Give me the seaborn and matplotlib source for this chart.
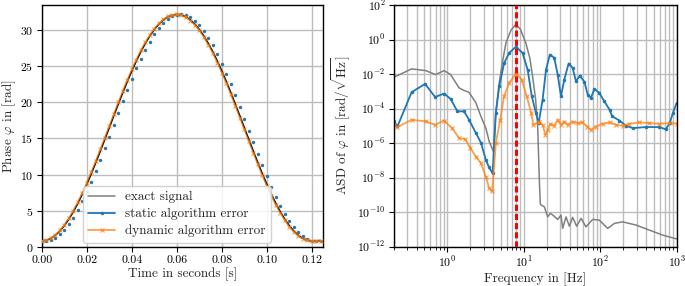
import matplotlib
matplotlib.use("Agg")
import matplotlib.pyplot as plt
import matplotlib.ticker as mticker
import numpy as np
import seaborn as sns

# ---- left panel: phase over time ----
time_s = np.linspace(0, 0.124, 63)
phase_exact = [0.80, 0.89, 1.14, 1.57, 2.16, 2.90, 3.80, 4.83, 5.99, 7.27,
               8.65, 10.11, 11.65, 13.24, 14.86, 16.50, 18.14, 19.76, 21.35, 22.89,
               24.35, 25.73, 27.01, 28.17, 29.20, 30.10, 30.84, 31.43, 31.86, 32.11,
               32.20, 32.11, 31.86, 31.43, 30.84, 30.10, 29.20, 28.17, 27.01, 25.73,
               24.35, 22.89, 21.35, 19.76, 18.14, 16.50, 14.86, 13.24, 11.65, 10.11,
               8.65, 7.27, 5.99, 4.83, 3.80, 2.90, 2.16, 1.57, 1.14, 0.89,
               0.80, 0.82, 0.84]
phase_static = [0.85, 0.81, 0.93, 1.23, 1.70, 2.33, 3.11, 4.04, 5.11, 6.30,
                7.61, 9.01, 10.49, 12.04, 13.64, 15.27, 16.91, 18.55, 20.17, 21.74,
                23.26, 24.70, 26.06, 27.31, 28.44, 29.44, 30.30, 31.00, 31.55, 31.94,
                32.15, 32.19, 32.07, 31.77, 31.30, 30.67, 29.89, 28.96, 27.89, 26.70,
                25.39, 23.99, 22.51, 20.96, 19.36, 17.73, 16.09, 14.45, 12.83, 11.26,
                9.74, 8.30, 6.94, 5.69, 4.56, 3.56, 2.70, 2.00, 1.45, 1.06,
                0.85, 0.81, 0.82]
phase_dynamic = [0.80, 0.92, 1.19, 1.65, 2.26, 3.03, 3.95, 5.00, 6.18, 7.47,
                 8.87, 10.34, 11.89, 13.48, 15.11, 16.75, 18.39, 20.00, 21.59, 23.12,
                 24.57, 25.93, 27.20, 28.34, 29.35, 30.22, 30.94, 31.51, 31.91, 32.14,
                 32.20, 32.08, 31.81, 31.35, 30.74, 29.97, 29.05, 28.00, 26.82, 25.53,
                 24.13, 22.66, 21.11, 19.52, 17.89, 16.25, 14.61, 12.98, 11.41, 9.88,
                 8.43, 7.07, 5.80, 4.66, 3.65, 2.78, 2.06, 1.49, 1.09, 0.86,
                 0.80, 0.81, 0.82]

# ---- right panel: amplitude spectral density, values as log10 ----
freq_exact = [0.2, 0.222, 0.34, 0.52, 0.70, 0.905, 1.1, 1.42, 1.65, 1.92,
              2.36, 2.74, 3.18, 3.52, 4.0, 4.3, 4.76, 5.3, 5.83, 6.8,
              7.87, 9.0, 10.6, 12.0, 13.0, 14.2, 15.1, 15.9, 16.4, 16.8,
              18.5, 20.5, 22.2, 24.0, 27.7, 30.6, 32.2, 35.6, 39.4, 43.5,
              49.0, 56.0, 65.0, 79.5, 97.0, 125.0, 153.0, 196.0, 295.0, 440.0,
              658.0, 1000.0]
asd_exact_log = [-2.16, -2.09, -1.70, -1.80, -2.03, -1.80, -2.03, -2.80, -2.95, -3.06,
                 -3.67, -4.45, -5.13, -5.90, -6.50, -4.20, -2.51, -1.20, -0.19, 0.55,
                 0.88, 0.60, -0.19, -1.10, -2.13, -3.40, -4.80, -8.00, -9.50, -9.59,
                 -9.68, -10.27, -10.07, -10.17, -10.42, -10.17, -10.94, -10.27, -10.81, -10.30,
                 -10.81, -10.36, -10.85, -10.42, -10.46, -10.94, -10.65, -10.56, -10.75, -11.04,
                 -11.33, -11.55]

freq_static = [0.2, 0.222, 0.34, 0.51, 0.69, 0.905, 1.1, 1.35, 1.65, 1.92,
               2.36, 2.74, 3.18, 3.5, 3.9, 4.3, 4.76, 5.53, 6.44, 7.87,
               9.6, 11.2, 12.7, 14.4, 15.6, 17.6, 19.5, 21.9, 25.0, 27.7,
               30.6, 33.8, 38.5, 43.5, 48.0, 54.0, 62.0, 68.5, 75.5, 83.7,
               97.0, 113.0, 132.0, 143.0, 178.0, 218.0, 267.0, 397.0, 595.0, 716.0,
               810.0, 890.0, 1000.0]
asd_static_log = [-4.74, -5.03, -3.05, -2.57, -3.33, -3.13, -3.44, -4.16, -4.16, -4.65,
                  -5.42, -5.97, -6.97, -7.40, -7.75, -4.26, -2.71, -1.35, -0.77, -0.42,
                  -0.77, -1.74, -3.29, -4.26, -4.84, -3.48, -1.74, -0.87, -1.06, -2.03,
                  -3.29, -2.32, -1.39, -1.64, -2.42, -2.09, -2.45, -3.19, -3.38, -2.86,
                  -3.09, -3.58, -4.06, -4.45, -4.69, -5.00, -5.13, -5.07, -5.07, -5.20,
                  -4.84, -4.26, -3.67]

freq_dynamic = [0.2, 0.222, 0.34, 0.52, 0.69, 0.9, 1.15, 1.42, 1.7, 2.0,
                2.36, 2.74, 3.18, 3.52, 3.85, 4.3, 4.9, 5.5, 6.44, 7.87,
                9.4, 10.9, 12.5, 13.3, 15.1, 15.9, 17.6, 19.1, 20.5, 22.2,
                25.0, 27.7, 30.6, 33.8, 37.3, 43.5, 50.5, 58.5, 67.5, 75.5,
                87.0, 107.0, 132.0, 161.0, 196.0, 240.0, 325.0, 440.0, 595.0, 810.0,
                1000.0]
asd_dynamic_log = [-4.94, -5.07, -4.65, -4.74, -4.94, -4.69, -5.13, -5.71, -5.77, -6.29,
                   -6.78, -7.16, -7.94, -8.62, -8.80, -6.00, -4.65, -3.29, -2.51, -1.97,
                   -2.32, -3.29, -4.26, -4.94, -4.80, -4.78, -4.94, -5.52, -5.23, -4.88,
                   -5.00, -4.65, -4.94, -4.75, -4.94, -4.75, -4.84, -4.80, -5.04, -5.23,
                   -5.04, -4.88, -4.80, -4.94, -5.00, -4.88, -4.80, -4.84, -4.88, -4.84,
                   -4.88]

excitation_freq = 8.0
legend_labels = ["exact signal", "static algorithm error", "dynamic algorithm error"]

sns.set_theme(style="ticks")
plt.rcParams.update({
    "font.family": ["cmr10", "DejaVu Serif"],
    "mathtext.fontset": "cm",
    "axes.formatter.use_mathtext": True,
    "axes.unicode_minus": False,
    "axes.edgecolor": "black",
    "axes.linewidth": 1.0,
    "xtick.color": "black",
    "ytick.color": "black",
    "grid.color": "#bdbdbd",
    "grid.linewidth": 1.0,
})

blue = "#1f77b4"
orange = "#ff7f0e"

fig = plt.figure(figsize=(6.85, 2.86), dpi=100)
ax1 = fig.add_axes([0.0609, 0.1374, 0.4107, 0.8451])
ax2 = fig.add_axes([0.5752, 0.1374, 0.4127, 0.8451])

# left: time domain
sns.lineplot(x=time_s, y=phase_exact, color="black", linewidth=1.2, ax=ax1,
             sort=False, estimator=None)
sns.scatterplot(x=time_s, y=phase_static, color=blue, s=6, linewidth=0, ax=ax1, zorder=3)
sns.lineplot(x=time_s, y=phase_dynamic, color=orange, alpha=0.75, linewidth=1.0,
             marker="x", markersize=2.5, markeredgewidth=0.8, markeredgecolor=orange,
             ax=ax1, sort=False, estimator=None, zorder=4)
ax1.set_xlim(0, 0.125)
ax1.set_ylim(0, 33.5)
ax1.set_xticks([0.0, 0.02, 0.04, 0.06, 0.08, 0.10, 0.12])
ax1.xaxis.set_major_formatter(mticker.FormatStrFormatter("%.2f"))
ax1.set_yticks([0, 5, 10, 15, 20, 25, 30])
ax1.grid(True)
ax1.set_xlabel("Time in seconds [s]", fontsize=9.5, labelpad=2)
ax1.set_ylabel(r"Phase $\varphi$ in [rad]", fontsize=9.5, labelpad=1.5)

# right: spectra
ax2.set_xscale("log")
ax2.set_yscale("log")
sns.lineplot(x=freq_exact, y=10.0 ** np.array(asd_exact_log), color="gray",
             linewidth=1.1, ax=ax2, sort=False, estimator=None)
sns.lineplot(x=freq_static, y=10.0 ** np.array(asd_static_log), color=blue,
             linewidth=1.3, marker=".", markersize=3.5, markeredgecolor=blue,
             ax=ax2, sort=False, estimator=None)
sns.lineplot(x=freq_dynamic, y=10.0 ** np.array(asd_dynamic_log), color=orange,
             alpha=0.75, linewidth=1.3, marker="x", markersize=2.5, markeredgewidth=0.8,
             markeredgecolor=orange, ax=ax2, sort=False, estimator=None)
ax2.axvline(excitation_freq, color="red", linewidth=2.2, dashes=(2.0, 1.0), zorder=5)
ax2.set_xlim(0.2, 1000)
ax2.set_ylim(1e-12, 1e2)
ax2.set_yticks([10.0 ** e for e in range(-12, 3, 2)])
ax2.yaxis.set_minor_locator(mticker.NullLocator())
ax2.xaxis.set_major_locator(mticker.LogLocator(base=10, numticks=10))
ax2.xaxis.set_minor_locator(mticker.LogLocator(base=10, subs=np.arange(2, 10), numticks=20))
ax2.xaxis.set_minor_formatter(mticker.NullFormatter())
ax2.grid(True, which="major")
ax2.grid(True, which="minor", axis="x")
ax2.set_xlabel("Frequency in [Hz]", fontsize=9.5, labelpad=2)
ax2.set_ylabel(r"ASD of $\varphi$ in [rad/$\sqrt{\mathrm{Hz}}$]", fontsize=9.5, labelpad=3)

for ax in (ax1, ax2):
    ax.tick_params(which="major", direction="out", length=3.5, width=0.8, labelsize=8.5, pad=2.5)
    ax.tick_params(which="minor", direction="out", length=2, width=0.6)
    for sp in ax.spines.values():
        sp.set_visible(True)
        sp.set_color("black")

# legend on the left panel, styled after the spectrum lines
handles = ax2.get_lines()[:3]
ax1.legend(handles, legend_labels, loc="lower center", bbox_to_anchor=(0.481, 0.0),
           fontsize=9.5, frameon=True, framealpha=0.85, edgecolor="#cccccc",
           borderaxespad=0.3, handlelength=2.0, labelspacing=0.35)

fig.savefig("out.png", dpi=100)
